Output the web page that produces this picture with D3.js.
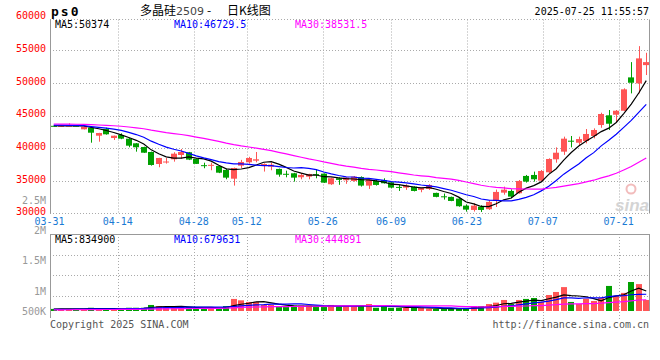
<!DOCTYPE html>
<html>
<head>
<meta charset="utf-8">
<style>
  body { margin: 0; background: #fff; }
  svg { display: block; }
  text { font-family: "DejaVu Sans Mono", monospace; font-size: 10px; }
</style>
</head>
<body>
<svg width="660" height="360"></svg>
<script src="https://d3js.org/d3.v7.min.js"></script>
<script>

// trading days shown
var dates = ["03-31","04-01","04-02","04-03","04-07","04-08","04-09","04-10","04-11","04-14",
  "04-15","04-16","04-17","04-18","04-21","04-22","04-23","04-24","04-25","04-28",
  "04-29","04-30","05-06","05-07","05-08","05-09","05-12","05-13","05-14","05-15",
  "05-16","05-19","05-20","05-21","05-22","05-23","05-26","05-27","05-28","05-29",
  "05-30","06-03","06-04","06-05","06-06","06-09","06-10","06-11","06-12","06-13",
  "06-16","06-17","06-18","06-19","06-20","06-23","06-24","06-25","06-26","06-27",
  "06-30","07-01","07-02","07-03","07-04","07-07","07-08","07-09","07-10","07-11",
  "07-14","07-15","07-16","07-17","07-18","07-21","07-22","07-23","07-24","07-25"];

var open = [43450,43420,43450,43480,42915,43160,41935,42960,41580,42040,
  41480,40770,40200,39440,37600,37940,38320,38980,39400,38380,
  37420,37430,37300,36690,35350,37345,37860,38110,37300,37190,
  36840,36100,36180,35570,35660,36050,36120,34500,35420,35110,
  35000,35610,34290,35000,35110,34800,34090,33980,34130,33630,
  33780,33170,32650,32560,32300,31220,30560,31070,30670,31940,
  33210,33470,33120,35770,35920,35050,36330,38320,39490,41170,
  40860,41120,41890,43570,45060,45150,45760,50870,49950,52750];
var high = [43500,43480,43830,43500,43350,43200,42380,43160,41950,42300,
  41600,40800,40250,39500,38550,38520,39400,39900,39450,38450,
  37800,37800,37350,36900,37050,38230,38700,39440,37700,37800,
  36900,36580,36250,36230,36100,36790,36150,35500,35570,35560,
  35760,35700,35250,35200,35410,34900,34390,34500,34200,33950,
  34500,33200,33070,32600,32350,31420,31580,31270,32100,33680,
  34130,33720,35150,35920,36430,36680,38470,40150,41790,41890,
  41790,42960,43060,45460,45870,45870,49200,53210,55660,54640];
var low = [43380,43400,43420,43400,42900,40865,41018,42100,41280,41400,
  40160,39490,39300,37350,37100,37660,37960,38400,38200,37600,
  36950,36640,36200,35260,34290,37000,37650,37860,36440,36640,
  35650,35560,34900,35260,35260,35410,34700,34400,34410,34560,
  34890,34140,33780,34290,34600,33880,33470,33630,33400,33270,
  33630,32500,32150,31900,31050,30300,30310,30250,30560,31010,
  32900,32350,33050,34750,34900,34900,36170,37800,39000,40150,
  40350,40760,41530,43150,42810,44060,45700,48420,48420,51230];
var close = [43420,43450,43480,43450,43313,42395,42350,42150,41935,41480,
  40405,40160,39330,37450,38520,37980,39180,39440,38270,37620,
  37380,37470,36270,35510,36990,37910,38520,38320,37600,37500,
  35970,36050,35510,35920,36070,36010,34740,35420,35160,35510,
  35660,34290,35200,34390,34650,33980,34000,34290,33470,33930,
  34390,32560,32600,31940,31130,30610,31220,30560,31790,33320,
  33670,32600,35000,34900,35260,36530,38370,39330,41480,41120,
  41420,42200,42810,45260,43770,45760,49040,50050,53780,53210];
var volume = [90000,90000,90000,90000,90000,140000,90000,90000,90000,80000,
  140000,140000,140000,260000,215000,170000,170000,170000,170000,90000,
  170000,170000,90000,215000,520000,460000,390000,390000,260000,260000,
  170000,170000,230000,230000,230000,170000,170000,260000,215000,215000,
  215000,215000,300000,140000,215000,140000,140000,140000,140000,140000,
  100000,90000,100000,100000,100000,100000,215000,215000,300000,360000,
  475000,300000,475000,520000,560000,390000,690000,820000,1030000,390000,
  300000,530000,430000,560000,1080000,650000,780000,1250000,1160000,475000];

// estimated sessions before 03-31, read from where the MA lines start
var closesBefore = [43900,43750,43850,43700,43800,43950,43850,43700,43750,43800,
  43900,43850,43700,43800,43750,43850,43800,43750,43800,43850,
  43700,43650,43700,43650,43700,43500,43450,43480,43450];
var volumeBefore = [40000,40000,45000,40000,45000,40000,40000,45000,40000,45000,
  40000,45000,45000,40000,45000,40000,45000,45000,40000,45000,
  45000,50000,45000,50000,45000,80000,90000,90000,85000];

var priceTicks = [30000,35000,40000,45000,50000,55000,60000];
var dateTicks = ["03-31","04-14","04-28","05-12","05-26","06-09","06-23","07-07","07-21"];
var volTicks = [500000,1000000,1500000,2000000,2500000];
var volTickLabels = ["500K","1M","1.5M","2M","2.5M"];
var priceHeader = ["MA5:50374","MA10:46729.5","MA30:38531.5"];
var volHeader = ["MA5:834900","MA10:679631","MA30:444891"];
var maColors = ["#000","#0000ff","#ff00ff"];
var maPeriods = [5,10,30];

var up = "#ff5555", down = "#00a000";

var svg = d3.select("svg");

var x = d3.scaleBand().domain(dates).range([50, 650]).paddingInner(0.2).paddingOuter(0.1);
var xt = d3.scalePoint().domain(dates).range([49.5, 649]);
var y = d3.scaleLinear().domain([30000, 60000]).range([213.6, 17.8]);
var yv = d3.scaleLinear().domain([0, 1000000]).range([311, 287.8]);
var yvLabel = d3.scaleLinear().domain([1000000, 2500000]).range([291, 200]);

function mid(d) { return x(d) + x.bandwidth() / 2; }

function movingAvg(vals, before, n) {
  var all = before.concat(vals);
  return vals.map(function(v, i) {
    var j = i + before.length;
    return d3.mean(all.slice(Math.max(0, j - n + 1), j + 1));
  });
}

// ---- grid
var grid = svg.append("g").attr("stroke", "#aaa").attr("stroke-dasharray", "1,2");
priceTicks.slice(1, -1).forEach(function(v) {
  grid.append("line").attr("x1", 50).attr("x2", 649)
    .attr("y1", Math.round(y(v)) + 0.5).attr("y2", Math.round(y(v)) + 0.5);
});
grid.append("line").attr("x1", 50).attr("x2", 649).attr("y1", 19.5).attr("y2", 19.5);
grid.append("line").attr("x1", 50).attr("x2", 649).attr("y1", 213.5).attr("y2", 213.5);
d3.range(1, 4).forEach(function(k) {
  var yy = Math.round(234 + k * 20.5) + 0.5;
  grid.append("line").attr("x1", 50).attr("x2", 649).attr("y1", yy).attr("y2", yy);
});
dateTicks.slice(1).forEach(function(d) {
  var xx = Math.round(xt(d)) + 0.5;
  grid.append("line").attr("x1", xx).attr("x2", xx).attr("y1", 19.5).attr("y2", 213.5);
  grid.append("line").attr("x1", xx).attr("x2", xx).attr("y1", 234).attr("y2", 319);
});

var border = svg.append("g").attr("stroke", "#999").attr("fill", "none");
border.append("line").attr("x1", 50.5).attr("x2", 50.5).attr("y1", 19.5).attr("y2", 213.5);
border.append("line").attr("x1", 649.5).attr("x2", 649.5).attr("y1", 19.5).attr("y2", 213.5);
border.append("line").attr("x1", 50.5).attr("x2", 50.5).attr("y1", 234).attr("y2", 318);
border.append("line").attr("x1", 649.5).attr("x2", 649.5).attr("y1", 234).attr("y2", 311);
border.append("line").attr("x1", 50).attr("x2", 650).attr("y1", 234.5).attr("y2", 234.5);

// ---- watermark
var wm = svg.append("g");
wm.append("circle").attr("cx", 631).attr("cy", 189).attr("r", 4.5)
  .attr("fill", "none").attr("stroke", "#f2bcbc").attr("stroke-width", 2);
wm.append("text").attr("x", 632).attr("y", 211).attr("text-anchor", "middle")
  .style("font-family", "Liberation Sans, Arial, sans-serif").style("font-size", "17px")
  .style("font-weight", "bold").style("font-style", "italic")
  .attr("fill", "#d4d4d4").text("sina");

// ---- candles
var candles = svg.append("g");
dates.forEach(function(d, i) {
  var c = close[i] >= open[i] ? up : down;
  var cx = Math.round(mid(d)) + 0.5;
  candles.append("line").attr("x1", cx).attr("x2", cx)
    .attr("y1", y(high[i])).attr("y2", y(low[i])).attr("stroke", c);
  var top = y(Math.max(open[i], close[i])), bot = y(Math.min(open[i], close[i]));
  candles.append("rect").attr("x", Math.round(x(d))).attr("width", Math.round(x.bandwidth()))
    .attr("y", top).attr("height", Math.max(1, bot - top)).attr("fill", c);
});

// ---- price MA lines
var priceLine = d3.line().x(function(v, i) { return mid(dates[i]); }).y(function(v) { return y(v); });
maPeriods.forEach(function(n, k) {
  svg.append("path").datum(movingAvg(close, closesBefore, n))
    .attr("d", priceLine).attr("fill", "none").attr("stroke", maColors[k]).attr("stroke-width", 1.2);
});

// ---- volume bars
var vols = svg.append("g");
dates.forEach(function(d, i) {
  var c = close[i] >= open[i] ? up : down;
  vols.append("rect").attr("x", Math.round(x(d))).attr("width", Math.round(x.bandwidth()))
    .attr("y", yv(volume[i])).attr("height", yv(0) - yv(volume[i])).attr("fill", c);
});
var volLine = d3.line().x(function(v, i) { return mid(dates[i]); }).y(function(v) { return yv(v); });
maPeriods.forEach(function(n, k) {
  svg.append("path").datum(movingAvg(volume, volumeBefore, n))
    .attr("d", volLine).attr("fill", "none").attr("stroke", maColors[k]).attr("stroke-width", 1.2);
});

// ---- axis labels
svg.append("g").selectAll("text").data(priceTicks).join("text")
  .attr("x", 46).attr("y", function(v) { return y(v) + 1.6; })
  .attr("text-anchor", "end").attr("fill", "#f00").text(function(v) { return v; });

svg.append("g").selectAll("text").data(volTicks).join("text")
  .attr("x", 46).attr("y", function(v) { return Math.min(yvLabel(v), 311) + 3.6; })
  .attr("text-anchor", "end").attr("fill", "#999")
  .text(function(v, i) { return volTickLabels[i]; });

svg.append("g").selectAll("text").data(dateTicks).join("text")
  .attr("x", function(d) { return xt(d); }).attr("y", 225)
  .attr("text-anchor", "middle").attr("fill", "#1a7ad4").text(function(d) { return d; });

// ---- headers
var hx = [55, 174, 295];
priceHeader.forEach(function(t, k) {
  svg.append("text").attr("x", hx[k]).attr("y", 27.5).attr("fill", maColors[k]).text(t);
});
volHeader.forEach(function(t, k) {
  svg.append("text").attr("x", hx[k]).attr("y", 242.5).attr("fill", maColors[k]).text(t);
});

svg.append("text").attr("x", 51).attr("y", 15.5)
  .style("font-size", "13px").style("font-weight", "bold").style("letter-spacing", "2px")
  .text("ps0");
var title = svg.append("text").attr("x", 140).attr("y", 15)
  .style("font-family", "'Noto Sans CJK SC', sans-serif").style("font-size", "12px");
title.append("tspan").text("多晶硅");
title.append("tspan").attr("fill", "#444").style("font-family", "'DejaVu Sans', sans-serif")
  .style("font-size", "11px").text("2509");
title.append("tspan").attr("x", 207).text("-");
title.append("tspan").attr("x", 227).text("日K线图");

svg.append("text").attr("x", 649).attr("y", 15).attr("text-anchor", "end").text("2025-07-25 11:55:57");

svg.append("text").attr("x", 50).attr("y", 327.5).attr("fill", "#555").text("Copyright 2025 SINA.COM");
svg.append("text").attr("x", 649).attr("y", 327.5).attr("text-anchor", "end").attr("fill", "#555")
  .text("http://finance.sina.com.cn");

</script>
</body>
</html>
